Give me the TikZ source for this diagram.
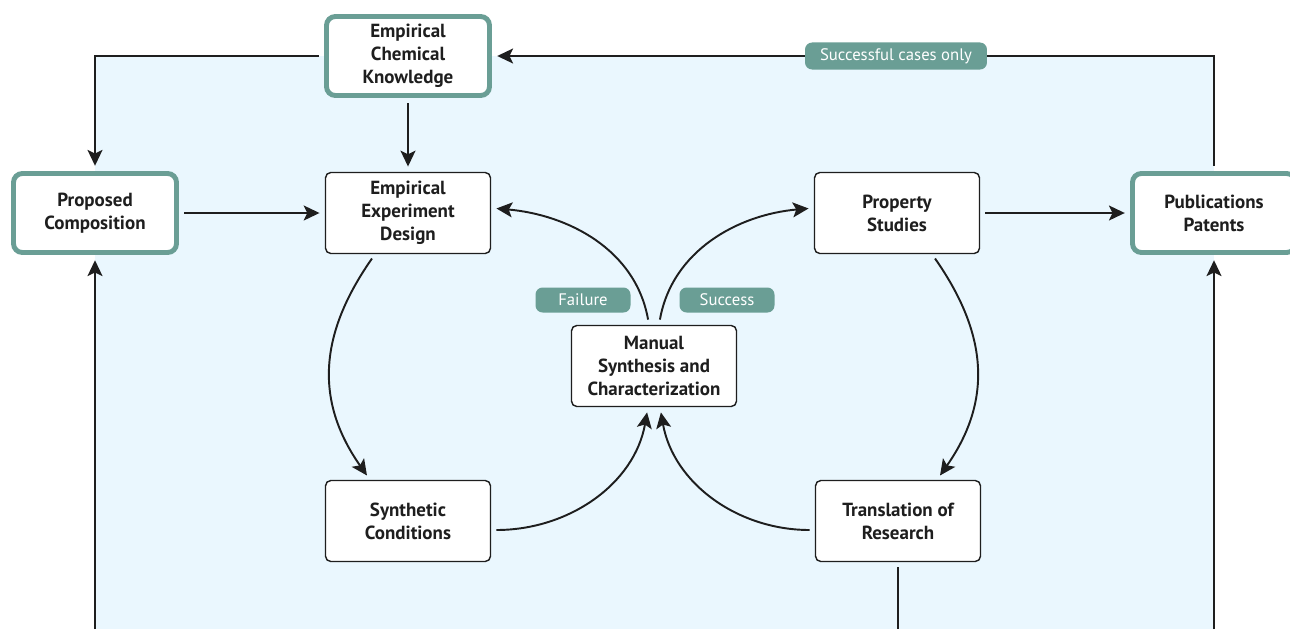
\documentclass[tikz,border=0pt]{standalone}
\usepackage{fontspec}
\setmainfont{PT Sans}
\usetikzlibrary{arrows.meta,positioning,calc}
\definecolor{sage}{HTML}{6A9E95}
\definecolor{skyfill}{HTML}{EAF7FE}
\definecolor{ink}{HTML}{1E1E1E}

\begin{document}
\begin{tikzpicture}[
  x=0.02cm,y=-0.02cm,
  box/.style={draw=ink,line width=0.8pt,rounded corners=3pt,fill=white,text=ink,minimum width=3.3cm,minimum height=1.62cm,align=center,font=\fontsize{10.8}{13.2}\selectfont\bfseries},
  keybox/.style={box,draw=sage,line width=2.8pt,rounded corners=5pt,minimum width=3.26cm,minimum height=1.58cm},
  pill/.style={fill=sage,rounded corners=4pt,text=white,font=\fontsize{9.5}{10}\selectfont,minimum height=0.5cm,inner xsep=4pt},
  arr/.style={-{Stealth[length=9pt,width=8.5pt,inset=2pt]},line width=1.1pt,draw=ink,shorten <=3pt,shorten >=3pt},
  line/.style={line width=1.1pt,draw=ink},
]
  \useasboundingbox (0,0) rectangle (1290,629);
  % light blue field
  \fill[skyfill] (95,56) rectangle (1214,629);

  % Knowledge and inputs
  \node[keybox] (eck) at (408,56) {Empirical\\Chemical\\Knowledge};
  \node[keybox] (prop) at (95,213) {Proposed\\Composition};
  \node[keybox] (pub) at (1214,213) {Publications\\Patents};

  % Loop boxes
  \node[box] (eed) at (408,213) {Empirical\\Experiment\\Design};
  \node[box] (msc) at (654,366) {Manual\\Synthesis and\\Characterization};
  \node[box] (synth) at (408,521) {Synthetic\\Conditions};
  \node[box] (prst) at (897,213) {Property\\Studies};
  \node[box] (trans) at (898,521) {Translation of\\Research};

  % Loose ends at the bottom edge
  \coordinate (leftend) at (95,629);
  \coordinate (rightend) at (1214,629);
  \coordinate (transend) at (898,629);

  % Straight connectors
  \draw[arr] (eck.west) -| (prop.north);
  \draw[arr] (eck) -- (eed);
  \draw[arr] (prop) -- (eed);
  \draw[arr] (prst) -- (pub);
  \draw[arr] (pub.north) |- (eck.east);
  \draw[arr,shorten <=0pt] (leftend) -- (prop.south);
  \draw[arr,shorten <=0pt] (rightend) -- (pub.south);
  \draw[line,shorten <=3pt] (trans.south) -- (transend);

  % Failure loop
  \draw[arr] ([xshift=-0.1cm]msc.north) to[out=100,in=-5] ([yshift=0.1cm]eed.east);
  \draw[arr] ([xshift=-0.66cm]eed.south) to[out=235,in=125,looseness=1.1] ([xshift=-0.76cm]synth.north);
  \draw[arr] ([yshift=-0.18cm]synth.east) to[out=0,in=-100] ([xshift=-0.12cm]msc.south);

  % Success loop
  \draw[arr] ([xshift=0.1cm]msc.north) to[out=80,in=185] ([yshift=0.1cm]prst.west);
  \draw[arr] ([xshift=0.7cm]prst.south) to[out=-55,in=55,looseness=1.1] ([xshift=0.78cm]trans.north);
  \draw[arr] ([yshift=-0.18cm]trans.west) to[out=180,in=-80] ([xshift=0.12cm]msc.south);

  % Labels
  \node[pill,minimum width=1.9cm] (fail) at (583,300) {Failure};
  \node[pill,minimum width=1.9cm] (succ) at (727,300) {Success};
  \node[pill,minimum width=3.64cm] (onlyok) at (896,56) {Successful cases only};
\end{tikzpicture}
\end{document}
